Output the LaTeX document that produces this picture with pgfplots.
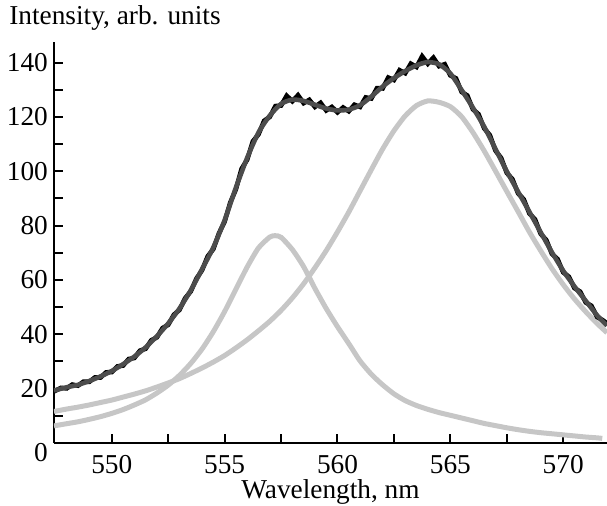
\documentclass[border=0pt]{standalone}
\usepackage{fontspec}
\setmainfont{Liberation Serif}
\usepackage{pgfplots}
\pgfplotsset{compat=1.18}
\usepackage{pgfplotstable}

\definecolor{compgray}{HTML}{C6C6C6}
\definecolor{sumgray}{HTML}{4C4C4C}

\pgfplotstableread{
x y
547.44 6.3
548.0 7.1
548.5 7.8
549.0 8.7
549.5 9.7
550.0 10.9
550.5 12.3
551.0 14.0
551.5 15.9
552.0 18.4
552.5 21.3
553.0 24.9
553.5 29.3
554.0 34.6
554.5 41.0
555.0 48.4
555.5 56.6
556.0 64.8
556.5 71.8
557.0 75.8
557.24 76.3
557.5 75.7
558.0 71.2
558.5 64.9
559.0 56.9
559.5 49.5
560.0 42.8
560.5 36.6
561.0 30.2
561.5 25.3
562.0 21.4
562.5 18.1
563.0 15.6
563.5 13.8
564.0 12.4
564.5 11.2
565.0 10.2
565.5 9.2
566.0 8.2
566.5 7.2
567.0 6.4
567.5 5.6
568.0 4.9
568.5 4.3
569.0 3.8
569.5 3.4
570.0 3.0
570.5 2.6
571.0 2.2
571.5 1.9
571.73 1.7
}\compone

\pgfplotstableread{
x y
547.44 11.6
548.0 12.5
548.5 13.2
549.0 14.0
549.5 14.9
550.0 15.8
550.5 16.9
551.0 18.0
551.5 19.2
552.0 20.6
552.5 22.1
553.0 23.7
553.5 25.6
554.0 27.6
554.5 29.8
555.0 32.2
555.5 35.0
556.0 38.0
556.5 41.3
557.0 44.8
557.5 48.8
558.0 53.4
558.5 58.6
559.0 64.5
559.5 70.8
560.0 77.7
560.5 85.0
561.0 92.8
561.5 100.6
562.0 108.2
562.5 114.9
563.0 120.4
563.5 124.2
564.0 125.9
564.5 125.4
565.0 123.8
565.5 120.1
566.0 114.3
566.5 107.5
567.0 100.1
567.5 92.6
568.0 85.2
568.5 77.7
569.0 70.8
569.5 64.2
570.0 58.3
570.5 53.0
571.0 48.3
571.5 44.0
571.94 40.6
}\comptwo

\pgfplotstableread{
x y
547.44 19.3
548.0 20.5
548.5 21.4
549.0 22.8
549.5 24.5
550.0 26.5
550.5 29.0
551.0 31.8
551.5 35.2
552.0 39.3
552.5 44.0
553.0 49.5
553.5 56.2
554.0 64.0
554.5 72.0
555.0 82.0
555.5 94.0
556.0 105.0
556.5 114.3
557.0 120.5
557.5 124.8
558.0 126.4
558.5 125.9
559.0 124.5
559.5 123.1
560.0 122.4
560.5 122.7
561.0 124.3
561.5 127.5
562.0 131.2
562.5 134.3
563.0 136.9
563.5 139.0
564.0 140.2
564.5 139.4
565.0 136.0
565.5 129.9
566.0 123.4
566.5 116.4
567.0 108.2
567.5 100.0
568.0 92.5
568.5 85.1
569.0 77.6
569.5 70.2
570.0 63.4
570.5 57.6
571.0 52.3
571.5 47.0
571.94 43.2
}\sumfit

\pgfplotstableread{
x y
547.44 19.0
547.75 20.3
548.0 20.1
548.25 21.5
548.5 21.1
548.75 22.6
549.0 22.5
549.25 24.1
549.5 24.1
549.75 26.0
550.0 26.1
550.25 28.2
550.5 28.5
550.75 30.9
551.0 31.3
551.25 34.0
551.5 34.7
551.75 37.8
552.0 38.9
552.25 42.3
552.5 43.5
552.75 47.2
553.0 49.0
553.25 53.3
553.5 55.8
553.75 60.5
554.0 63.6
554.25 68.7
554.5 71.4
554.75 77.2
555.0 81.5
555.25 88.5
555.5 93.4
555.75 100.9
556.0 104.3
556.25 111.0
556.5 113.6
556.75 118.6
557.0 120.0
557.25 124.0
557.5 124.2
557.75 127.8
558.0 125.8
558.25 128.0
558.5 125.1
558.75 126.3
559.0 123.7
559.25 125.2
559.5 122.4
559.75 123.7
560.0 121.7
560.25 123.5
560.5 122.1
560.75 124.5
561.0 123.7
561.25 127.2
561.5 126.8
561.75 130.6
562.0 130.5
562.25 134.5
562.5 133.6
562.75 137.2
563.0 136.1
563.25 139.6
563.5 138.4
563.75 142.3
564.0 139.6
564.25 141.8
564.5 138.7
564.75 139.4
565.0 135.3
565.25 134.2
565.5 129.2
565.75 127.9
566.0 122.8
566.25 121.0
566.5 115.8
566.75 113.3
567.0 107.6
567.25 104.9
567.5 99.4
567.75 97.1
568.0 91.9
568.25 89.7
568.5 84.5
568.75 82.3
569.0 77.0
569.25 74.7
569.5 69.6
569.75 67.7
570.0 62.8
570.25 61.2
570.5 57.0
570.75 55.7
571.0 51.7
571.25 50.5
571.5 46.4
571.75 45.2
571.94 44.0
}\measured

\begin{document}
\begin{tikzpicture}
\begin{axis}[
  name=ax,
  at={(0,0)}, anchor=south west,
  scale only axis,
  width=276.5bp, height=200.65bp,
  xmin=547.44, xmax=571.94,
  ymin=0, ymax=147.7,
  axis lines=left,
  axis line style={-, line width=1.2bp, black},
  tick align=inside,
  major tick length=4.6bp,
  minor tick length=4.6bp,
  tick style={black, line width=1bp},
  xtick={550,555,560,565,570},
  minor xtick={552.5,557.5,562.5,567.5},
  ytick={20,40,60,80,100,120,140},
  minor ytick={10,30,50,70,90,110,130},
  extra y ticks={0},
  extra y tick style={yticklabel style={anchor=north east, yshift=0bp}},
  /pgf/number format/assume math mode=true,
  /pgf/number format/1000 sep={},
  tick label style={font=\fontsize{13.7}{16}\selectfont},
  xticklabel style={inner sep=0pt, anchor=north, yshift=-6bp},
  yticklabel style={inner sep=0pt, anchor=east, xshift=-2.9bp},
  xlabel={Wavelength, nm},
  xlabel style={at={(axis description cs:0.5,0)}, anchor=base, yshift=-27.5bp, inner sep=0pt, font=\fontsize{13.7}{16}\selectfont},
]
\addplot[compgray, line width=2.5bp, smooth, tension=0.4] table[x=x,y=y] {\compone};
\addplot[compgray, line width=2.5bp, smooth, tension=0.4] table[x=x,y=y] {\comptwo};
\addplot[black, line width=2.3bp] table[x=x,y=y] {\measured};
\addplot[sumgray, line width=2.3bp, smooth, tension=0.4] table[x=x,y=y] {\sumfit};
\end{axis}
\node[anchor=base west, inner sep=0pt, font=\fontsize{13.7}{16}\selectfont] at ([shift={(-22.5bp,8.35bp)}]ax.north west) {Intensity, arb. units};
\pgfresetboundingbox
\path[use as bounding box] ([shift={(-27bp,-31.5bp)}]ax.south west) rectangle ([shift={(0bp,20.85bp)}]ax.north east);
\end{tikzpicture}
\end{document}
